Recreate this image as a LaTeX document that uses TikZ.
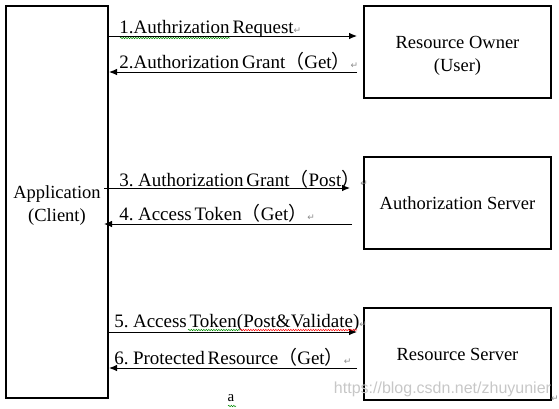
\documentclass[tikz,border=0pt]{standalone}
\usepackage{fontspec}
\setmainfont{Liberation Serif}
\newfontfamily\cjk{Noto Sans CJK SC}
\newfontfamily\symfont{DejaVu Sans}
\newfontfamily\wmfont{Liberation Sans}
\usetikzlibrary{arrows.meta,positioning,decorations.pathmorphing}
\newcommand{\lp}{{\cjk （}}
\newcommand{\rp}{{\cjk ）}}
\newcommand{\enter}{{\symfont\fontsize{9}{9}\selectfont\color{black!45}↵}}
\newcommand{\lift}{\rule{0pt}{20pt}}
\newcommand{\lblfont}{\fontsize{19}{22}\selectfont\spaceskip=2.8pt\relax}

\begin{document}
\begin{tikzpicture}[x=1pt, y=-1pt, node distance=57pt,
    box/.style={draw, line width=2pt, minimum width=187pt, minimum height=92pt, align=center, inner sep=0pt, font=\fontsize{18.5}{23}\selectfont},
    msg/.style={draw, line width=0.9pt, -{Latex[length=8pt,width=6.5pt]}},
    lbl/.style={inner sep=0pt, anchor=base west, font=\lblfont},
    squiggle/.style={line width=0.5pt, decorate, decoration={snake, segment length=2.5pt, amplitude=0.7pt}}]
    \useasboundingbox (0,0) rectangle (559,408);

    \node[box, minimum width=102pt, minimum height=392pt] (client) at (57,202) {\lift Application\\(Client)};
    \node[box]                        (owner)   at (457.5,52) {\lift Resource Owner\\(User)};
    \node[box, below = of owner]      (authsrv) {Authorization Server};
    \node[box, below = of authsrv]    (ressrv)  {Resource Server};

    \draw[msg, shorten >=6pt] (client.east |- 0,36) -- (owner.west |- 0,36)
        node[lbl, at start, xshift=10pt, yshift=3pt] {1.Authrization Request\enter};
    \draw[msg, shorten <=6pt] (owner.west |- 0,72) -- (client.east |- 0,72)
        node[lbl, at end, xshift=10pt, yshift=3.7pt] {2.Authorization Grant\lp Get\rp\enter};
    \draw[msg, shorten <=-5pt, shorten >=13pt] (client.east |- 0,188) -- (authsrv.west |- 0,188)
        node[lbl, at start, xshift=10pt, yshift=2pt] {3. Authorization Grant\lp Post\rp\enter};
    \draw[msg, shorten <=11pt, shorten >=-5pt] (authsrv.west |- 0,224) -- (client.east |- 0,224)
        node[lbl, at end, xshift=10pt, yshift=4pt] {4. Access Token\lp Get\rp\enter};
    \draw[msg, shorten >=6pt] (client.east |- 0,332) -- (ressrv.west |- 0,332)
        node[lbl, at start, xshift=5pt, yshift=5pt] {5. Access Token(Post\&Validate)\enter};
    \draw[msg, shorten <=6pt] (ressrv.west |- 0,368) -- (client.east |- 0,368)
        node[lbl, at end, xshift=5pt, yshift=4pt] {6. Protected Resource\lp Get\rp\enter};

    % word marks
    \draw[squiggle, green!55!black] (120,38) -- (230,38);
    \draw[squiggle, green!55!black] (188,330) -- (240,330);
    \draw[squiggle, red] (240,330) -- (357,330);
    \draw[squiggle, green!55!black] (228,406) -- (236,406);

    \node[inner sep=0pt, font=\fontsize{15}{15}\selectfont] (a) at (231,398) {a};
    \node[inner sep=0pt, text=black!22, font=\wmfont\fontsize{16}{16}\selectfont] (wm) at (442.5,389) {https://blog.csdn.net/zhuyunier};
    \node[inner sep=0pt] (pend) at (555,399) {\enter};
\end{tikzpicture}
\end{document}
